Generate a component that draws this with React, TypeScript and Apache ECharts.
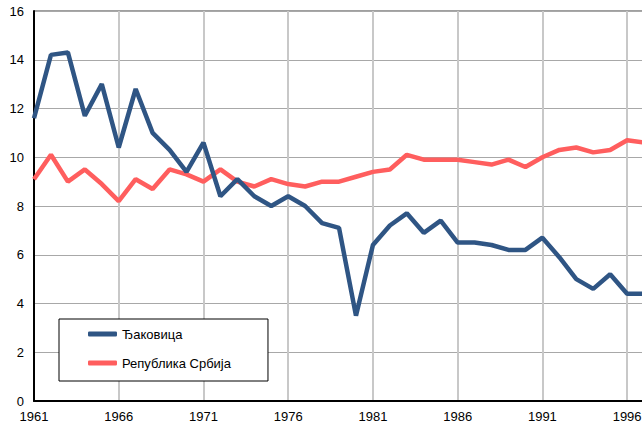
import React, { useEffect, useRef } from "react";
import * as echarts from "echarts";

const years: number[] = [
  1961, 1962, 1963, 1964, 1965, 1966, 1967, 1968, 1969, 1970,
  1971, 1972, 1973, 1974, 1975, 1976, 1977, 1978, 1979, 1980,
  1981, 1982, 1983, 1984, 1985, 1986, 1987, 1988, 1989, 1990,
  1991, 1992, 1993, 1994, 1995, 1996, 1997,
];

const djakovica: number[] = [
  11.6, 14.2, 14.3, 11.7, 13.0, 10.4, 12.8, 11.0, 10.3, 9.4,
  10.6, 8.4, 9.1, 8.4, 8.0, 8.4, 8.0, 7.3, 7.1, 3.5,
  6.4, 7.2, 7.7, 6.9, 7.4, 6.5, 6.5, 6.4, 6.2, 6.2,
  6.7, 5.9, 5.0, 4.6, 5.2, 4.4, 4.4,
];

const srbija: number[] = [
  9.1, 10.1, 9.0, 9.5, 8.9, 8.2, 9.1, 8.7, 9.5, 9.3,
  9.0, 9.5, 9.0, 8.8, 9.1, 8.9, 8.8, 9.0, 9.0, 9.2,
  9.4, 9.5, 10.1, 9.9, 9.9, 9.9, 9.8, 9.7, 9.9, 9.6,
  10.0, 10.3, 10.4, 10.2, 10.3, 10.7, 10.6,
];

const seriesNames: string[] = ["Ђаковица", "Република Србија"];
const colors: string[] = ["#2f5584", "#ff5e5e"];

export default function App() {
  const ref = useRef<HTMLDivElement>(null);
  useEffect(() => {
    document.body.style.margin = "0";
    if (!ref.current) return;
    const chart = echarts.init(ref.current, null, { renderer: "svg" });
    const font = "Liberation Sans, Arial, sans-serif";
    chart.setOption({
      animation: false,
      backgroundColor: "#ffffff",
      grid: {
        left: 34,
        top: 11,
        bottom: 22,
        right: -19,
        outerBoundsMode: "none",
        containLabel: false,
        show: true,
        borderColor: "#404040",
        borderWidth: 1,
      },
      legend: {
        orient: "vertical",
        left: 59,
        top: 319,
        padding: [8, 37, 11, 29],
        itemWidth: 29,
        itemHeight: 5,
        itemGap: 15,
        borderColor: "#000000",
        borderWidth: 1,
        backgroundColor: "#ffffff",
        textStyle: { fontFamily: font, fontSize: 13, color: "#000000", lineHeight: 14 },
        data: seriesNames.map((n) => ({ name: n, icon: "roundRect" })),
      },
      xAxis: {
        type: "value",
        min: 1961,
        max: 1998,
        interval: 5,
        axisLine: { show: true, lineStyle: { color: "#000000", width: 2 } },
        axisTick: { show: false },
        axisLabel: {
          fontFamily: font,
          fontSize: 13,
          color: "#000000",
          margin: 9,
          showMaxLabel: false,
          formatter: (v: number) => String(v),
        },
        splitLine: { show: true, lineStyle: { color: "#c8c8c8", width: 2 } },
      },
      yAxis: {
        type: "value",
        min: 0,
        max: 16,
        interval: 2,
        axisLine: { show: true, lineStyle: { color: "#000000", width: 2 } },
        axisTick: { show: false },
        axisLabel: { fontFamily: font, fontSize: 13, color: "#000000", margin: 10 },
        splitLine: { show: true, lineStyle: { color: "#a8a8a8", width: 1 } },
      },
      series: [
        {
          name: seriesNames[0],
          type: "line",
          data: years.map((y, i) => [y, djakovica[i]]),
          showSymbol: false,
          symbol: "none",
          lineStyle: { color: colors[0], width: 4.5 },
          itemStyle: { color: colors[0] },
          z: 3,
        },
        {
          name: seriesNames[1],
          type: "line",
          data: years.map((y, i) => [y, srbija[i]]),
          showSymbol: false,
          symbol: "none",
          lineStyle: { color: colors[1], width: 4.5 },
          itemStyle: { color: colors[1] },
          z: 2,
        },
      ],
    });
    return () => chart.dispose();
  }, []);
  return (
    <div
      ref={ref}
      style={{ position: "absolute", left: 0, top: 0, width: 642, height: 423 }}
    />
  );
}
